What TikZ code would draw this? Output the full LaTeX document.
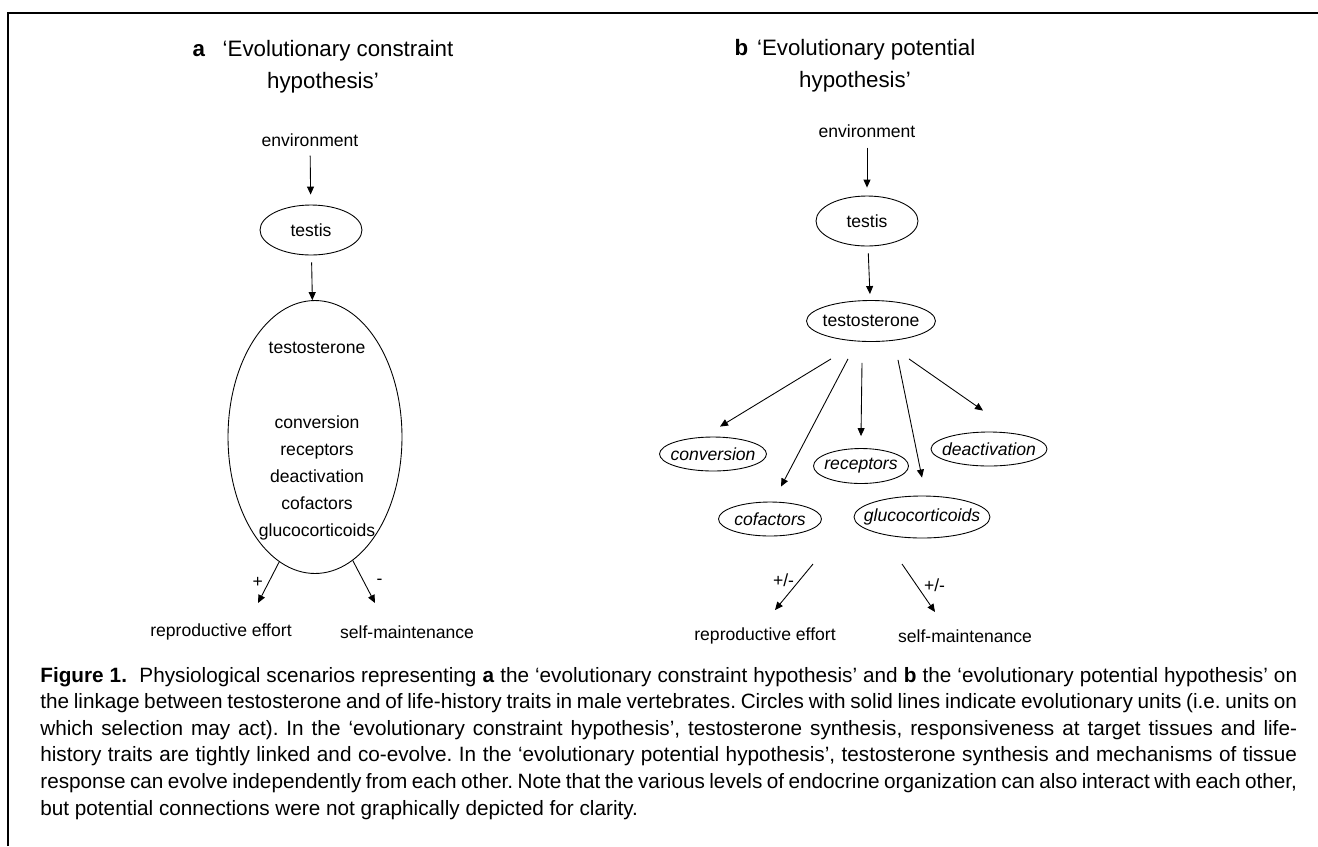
\documentclass[tikz,border=0pt]{standalone}
\usepackage{fontspec}
\setmainfont{Liberation Sans}
\usetikzlibrary{shapes.geometric,arrows.meta}
\frenchspacing
\begin{document}
\begin{tikzpicture}[x=0.02cm,y=-0.02cm]
\tikzstyle{unit}=[draw, ellipse, inner sep=0pt, line width=0.5pt]
\tikzstyle{trait}=[unit, minimum height=0.68cm]
\tikzstyle{link}=[-{Triangle[length=1.6mm,width=1.4mm]}, line width=0.5pt]
\tikzstyle{title}=[align=center, font=\fontsize{12.7}{18.2}\selectfont]
\tikzstyle{sign}=[inner sep=1pt]
\useasboundingbox (0,0) rectangle (1318,846);
\draw[line width=1.1pt] (8,846) -- (8,13) -- (1318,13);

\node[title] (titlea) at (323,67) {\textbf{a}\hspace{10pt}‘Evolutionary constraint\\hypothesis’};
\node (enva) at (310,140) {environment};
\node[unit, minimum width=2.04cm, minimum height=1cm, label=center:testis] (testa) at (311,230) {};
\node[unit, minimum width=3.48cm, minimum height=5.46cm] (ta) at (315,437) {};
\node (hormonea) at (317,348) {testosterone};
\node[align=center, font=\fontsize{10}{15.4}\selectfont] (mecha) at (317,478) {conversion\\receptors\\deactivation\\cofactors\\glucocorticoids};
\coordinate (ra) at (258,603);
\coordinate (sa) at (375,603);
\node (repa) at (221,632) {reproductive effort};
\node (selfa) at (407,632) {self-maintenance};
\draw[link, shorten <=0.06cm, shorten >=0.2cm] (enva) -- (testa);
\draw[link, shorten <=0.14cm] (testa) -- (ta);
\draw[link] (ta.254) -- node[sign, left=2pt] {+} (ra);
\draw[link] (ta.287) -- node[sign, right=6pt] {-} (sa);

\node[title] (titleb) at (855,66) {\textbf{b}\hspace{5pt}‘Evolutionary potential\\hypothesis’};
\node (envb) at (867,131) {environment};
\node[unit, minimum width=2.04cm, minimum height=1cm, label=center:testis] (testb) at (867,221) {};
\node[unit, minimum width=2.58cm, minimum height=0.82cm, label=center:testosterone] (tb) at (871,321) {};
\node[trait, minimum width=2.14cm, label={[font=\itshape]center:conversion}] (conv) at (713,454) {};
\node[trait, minimum width=1.90cm, minimum height=0.70cm, label={[font=\itshape]center:receptors}] (rec) at (861,466) {};
\node[trait, minimum width=2.32cm, label={[font=\itshape]center:deactivation}] (deact) at (989,449) {};
\node[trait, minimum width=2.06cm, label={[font=\itshape]center:cofactors}] (cof) at (770,519) {};
\node[trait, minimum width=2.72cm, minimum height=0.84cm, label={[font=\itshape]center:glucocorticoids}] (glu) at (922,517) {};
\draw[link, shorten <=0.08cm, shorten >=0.16cm] (envb) -- (testb);
\draw[link, shorten <=0.14cm, shorten >=0.12cm] (testb) -- (tb);
\draw[link] ([shift={(-40,17)}]tb.south) -- ([shift={(7,-10)}]conv.north);
\draw[link] ([shift={(-23,17)}]tb.south) -- ([shift={(11,-15)}]cof.north);
\draw[link] ([shift={(-9,21)}]tb.south) -- ([shift={(0,-12)}]rec.north);
\draw[link] ([shift={(27,18)}]tb.south) -- ([shift={(0,-18)}]glu.north);
\draw[link] ([shift={(38,17)}]tb.south) -- ([shift={(-6,-21)}]deact.north);
\coordinate (rb0) at (813,564);
\coordinate (rb) at (775,610);
\coordinate (sb0) at (902,564);
\coordinate (sb) at (935,612);
\draw[link] (rb0) -- node[sign, pos=0.35, left=2pt] {+/-} (rb);
\draw[link] (sb0) -- node[sign, pos=0.44, right=3pt] {+/-} (sb);
\node (repb) at (765,636) {reproductive effort};
\node (selfb) at (965,636) {self-maintenance};

\node[anchor=north west, text width=25.14cm, align=justify, inner sep=0pt, font=\fontsize{11.8}{15.1}\selectfont] (caption) at (40,667) {\tolerance=9999\hyphenpenalty=10000{\bfseries Figure 1.}\hspace{0.6em}Physiological scenarios representing \textbf{a} the ‘evolutionary constraint hypothesis’ and \textbf{b} the ‘evolutionary potential hypothesis’ on\linebreak the linkage between testosterone and of life-history traits in male vertebrates. Circles with solid lines indicate evolutionary units (i.e. units on\linebreak which selection may act). In the ‘evolutionary constraint hypothesis’, testosterone synthesis, responsiveness at target tissues and life-\linebreak history traits are tightly linked and co-evolve. In the ‘evolutionary potential hypothesis’, testosterone synthesis and mechanisms of tissue\linebreak response can evolve independently from each other. Note that the various levels of endocrine organization can also interact with each other,\linebreak but potential connections were not graphically depicted for clarity.};
\end{tikzpicture}
\end{document}
